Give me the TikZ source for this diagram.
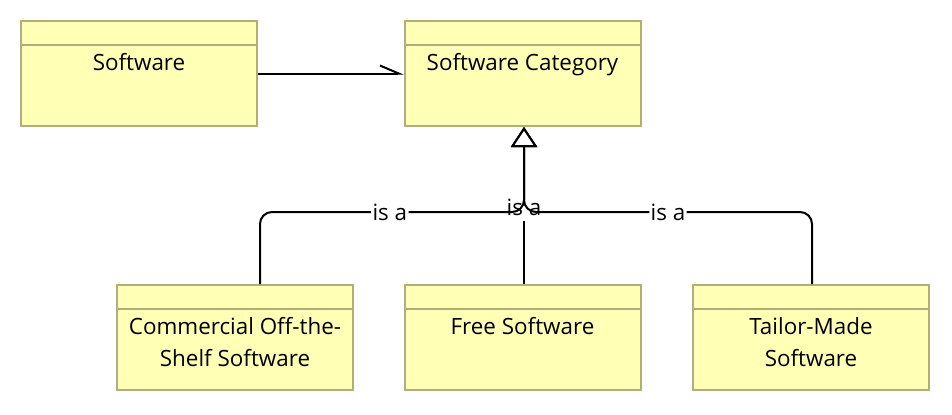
\documentclass[tikz,border=0pt]{standalone}
\usepackage{fontspec}
\setmainfont{Open Sans}
\usetikzlibrary{arrows.meta}
\definecolor{boxfill}{RGB}{255,255,181}
\definecolor{boxline}{RGB}{178,174,120}
\tikzset{
  umlbox/.style={draw=boxline, fill=boxfill, line width=1.5pt, minimum width=177pt, minimum height=78.75pt, inner sep=0pt,
    path picture={\draw[boxline, line width=1.5pt] ([yshift=-18pt]path picture bounding box.north west) -- ([yshift=-18pt]path picture bounding box.north east);}},
  txt/.style={anchor=base, align=center, font=\fontsize{16.8pt}{24pt}\selectfont, inner sep=0pt},
  conn/.style={line width=1.5pt, line join=round},
  assoc/.style={conn, -{Straight Barb[left, length=14pt, width=12pt, line width=1.5pt]}},
  gen/.style={conn, rounded corners=9pt, -{Triangle[open, length=15pt, width=19.5pt, line width=1.5pt, fill=white]}},
  isa/.style={font=\fontsize{16.8pt}{18pt}\selectfont, fill=white, inner sep=1pt},
  isamid/.style={font=\fontsize{16.8pt}{18pt}\selectfont, fill=white, inner sep=1pt, minimum height=20pt}
}
\begin{document}
\begin{tikzpicture}[x=0.75pt, y=-0.75pt]
\useasboundingbox (0,0) rectangle (952,414);
\node[umlbox] (sw)   at (139,73.5) {};
\node[umlbox] (cat)  at (522.5,73.5) {};
\node[umlbox] (cots) at (235,337.5) {};
\node[umlbox] (free) at (522.5,337.5) {};
\node[umlbox] (tail) at (811,337.5) {};
\node[txt] (sw-t)   at ([yshift=-37.5pt]sw.north) {Software};
\node[txt] (cat-t)  at ([yshift=-37.5pt]cat.north) {Software Category};
\node[txt] (cots-t) at ([yshift=-61.5pt]cots.north) {Commercial Off-the-\\Shelf Software};
\node[txt] (free-t) at ([yshift=-37.5pt]free.north) {Free Software};
\node[txt] (tail-t) at ([yshift=-61.5pt]tail.north) {Tailor-Made\\Software};
\coordinate (j) at (524,212);
\draw[assoc] (sw.east) -- (cat.west);
\draw[gen] (free.north -| j) -- node[isamid, pos=0.487] (l2) {is a} (cat.south -| j);
\draw[gen] (cots.north -| 260,0) |- node[isa, pos=0.746] (l1) {is a} (j) -- (cat.south -| j);
\draw[gen] (tail.north -| 812,0) |- node[isa, pos=0.75] (l3) {is a} (j) -- (cat.south -| j);
\end{tikzpicture}
\end{document}
